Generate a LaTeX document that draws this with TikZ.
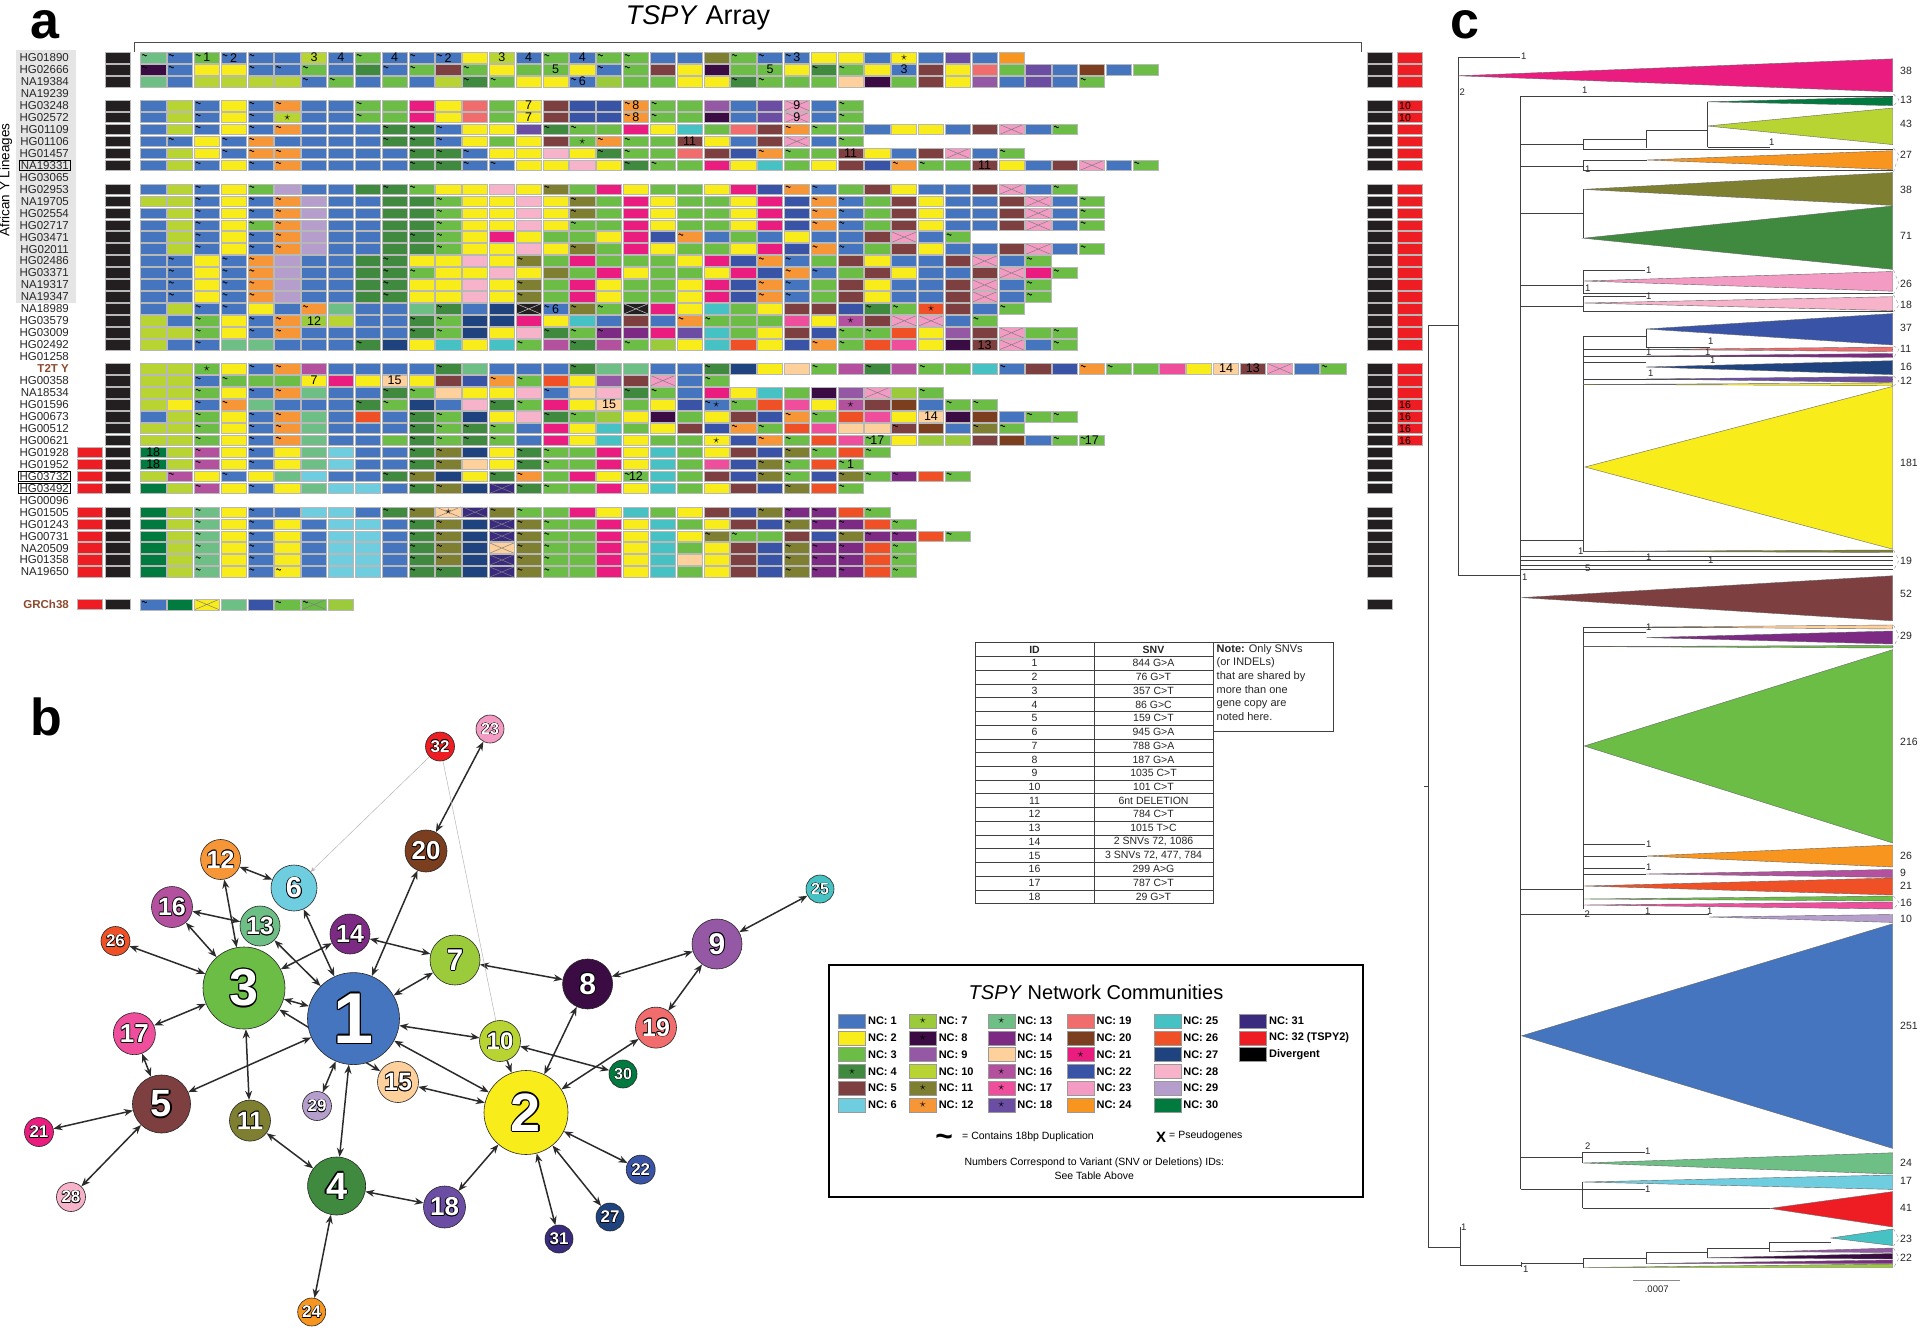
\documentclass[tikz,border=0pt]{standalone}
\usepackage{fontspec}
\setmainfont{Liberation Sans}
\usetikzlibrary{arrows.meta,positioning,calc}
\definecolor{TspyNC1}{HTML}{4575BE}
\definecolor{TspyNC2}{HTML}{F8EC1A}
\definecolor{TspyNC3}{HTML}{6BBD45}
\definecolor{TspyNC4}{HTML}{3F8A3E}
\definecolor{TspyNC5}{HTML}{7E3F40}
\definecolor{TspyNC6}{HTML}{6ECEDF}
\definecolor{TspyNC7}{HTML}{9BCB3B}
\definecolor{TspyNC8}{HTML}{3B0B43}
\definecolor{TspyNC9}{HTML}{9558A4}
\definecolor{TspyNC10}{HTML}{B7D433}
\definecolor{TspyNC11}{HTML}{7F7F32}
\definecolor{TspyNC12}{HTML}{F79637}
\definecolor{TspyNC13}{HTML}{6DBF85}
\definecolor{TspyNC14}{HTML}{7C2A84}
\definecolor{TspyNC15}{HTML}{FED09C}
\definecolor{TspyNC16}{HTML}{B4519F}
\definecolor{TspyNC17}{HTML}{EE4E9C}
\definecolor{TspyNC18}{HTML}{6B4EA3}
\definecolor{TspyNC19}{HTML}{F06C6D}
\definecolor{TspyNC20}{HTML}{7B3F1F}
\definecolor{TspyNC21}{HTML}{EB1C7F}
\definecolor{TspyNC22}{HTML}{3954A6}
\definecolor{TspyNC23}{HTML}{F39BC3}
\definecolor{TspyNC24}{HTML}{F7951E}
\definecolor{TspyNC25}{HTML}{46C2C4}
\definecolor{TspyNC26}{HTML}{F05025}
\definecolor{TspyNC27}{HTML}{1F437F}
\definecolor{TspyNC28}{HTML}{F6B3C9}
\definecolor{TspyNC29}{HTML}{B59DCC}
\definecolor{TspyNC30}{HTML}{017A40}
\definecolor{TspyNC31}{HTML}{3A2B7E}
\definecolor{TspyNC32}{HTML}{EE1D24}
\definecolor{TspyNCD}{HTML}{231F20}
\definecolor{TspyBrown}{HTML}{8C4A2F}
\definecolor{TspyEdge}{HTML}{2B2B2B}
\pgfdeclarelayer{bg}
\pgfsetlayers{bg,main}
\newcommand\tstar{\raisebox{-1pt}{\fontsize{13}{13}\selectfont$\star$}}
\newcommand\olbl[2]{\leavevmode\rlap{\color{black}\kern#2pt#1}\rlap{\color{black}\kern-#2pt#1}\rlap{\color{black}\raisebox{#2pt}{#1}}\rlap{\color{black}\raisebox{-#2pt}{#1}}\rlap{\color{black}\kern.7\dimexpr#2pt\relax\raisebox{.7\dimexpr#2pt\relax}{#1}}\rlap{\color{black}\kern-.7\dimexpr#2pt\relax\raisebox{.7\dimexpr#2pt\relax}{#1}}\rlap{\color{black}\kern.7\dimexpr#2pt\relax\raisebox{-.7\dimexpr#2pt\relax}{#1}}\rlap{\color{black}\kern-.7\dimexpr#2pt\relax\raisebox{-.7\dimexpr#2pt\relax}{#1}}#1}
\newcommand\arow[3]{\foreach \c/\m/\l [count=\j from 0] in {#3}{\node[cellbox,fill=TspyNC\c,cmsel=\m] (#1-\j) at ({153.2+26.82*\j},{57.7+11.96*#2}) {\l};}}
\newcommand\clade[5]{\filldraw[clade,fill=TspyNC#1] (#2,#3) -- (1892.7,#4) -- (1892.7,#5) -- cycle;}
\newcommand\brk[3]{\draw[dashed,black!45,line width=.4pt] (1893.5,#1) -- (1899,#2) -- (1893.5,#3);}
\tikzset{
  cellbox/.style={draw=black!28,line width=.6pt,minimum width=25.2pt,minimum height=10.6pt,inner sep=0pt,font=\fontsize{12.5}{10}\selectfont},
  cmsel/.code={\edef\tmpsel{\noexpand\pgfkeysalso{cmk#1}}\tmpsel},
  cmk/.style={},
  tildemark/.code={\draw[black,line width=.8pt] ([shift={(1.6pt,-2.8pt)}]path picture bounding box.north west) sin +(1.15pt,.75pt) cos +(1.15pt,-.75pt) sin +(1.15pt,-.75pt) cos +(1.15pt,.75pt);},
  crossmark/.code={\draw[#1,line width=.5pt] (path picture bounding box.south west) -- (path picture bounding box.north east) (path picture bounding box.north west) -- (path picture bounding box.south east);},
  cmkt/.style={path picture={\pgfkeys{/tikz/tildemark}}},
  cmkx/.style={path picture={\pgfkeys{/tikz/crossmark=black!50}}},
  cmkw/.style={path picture={\pgfkeys{/tikz/crossmark=white!80!black}}},
  cmktx/.style={path picture={\pgfkeys{/tikz/crossmark=black!50}\pgfkeys{/tikz/tildemark}}},
  blkbox/.style={fill=TspyNCD,draw=black!28,line width=.6pt,minimum width=25pt,minimum height=10.6pt,inner sep=0pt},
  redbox/.style={blkbox,fill=TspyNC32},
  nmlbl/.style={anchor=east,inner sep=1pt,font=\fontsize{11.5}{11}\selectfont,text=black!85},
  ncnode/.style={circle,draw=black!85,line width=.6pt,inner sep=0pt,text=white},
  nedge/.style={{Stealth[length=9pt,width=7pt]}-{Stealth[length=9pt,width=7pt]},line width=1.5pt,draw=TspyEdge},
  thinedge/.style={line width=.45pt,draw=black!30},
  swatch/.style={draw=black!40,line width=.5pt,minimum width=27pt,minimum height=14pt,inner sep=0pt},
  lgtxt/.style={inner sep=0pt,font=\fontsize{11}{11}\selectfont\bfseries},
  lgnote/.style={inner sep=0pt,font=\fontsize{10.5}{14.3}\selectfont},
  tbtxt/.style={inner sep=0pt,font=\fontsize{10.5}{10.5}\selectfont,text=black!85},
  tbline/.style={line width=.6pt,draw=black!75},
  tline/.style={draw=black!75,line width=.8pt},
  clade/.style={draw=black!60,line width=.4pt},
  tlbl/.style={anchor=west,inner sep=0pt,font=\fontsize{10.5}{10.5}\selectfont,text=black!85},
  blbl/.style={anchor=west,inner sep=0pt,font=\fontsize{9.5}{9.5}\selectfont,text=black!85},
  panel/.style={font=\fontsize{52}{52}\selectfont\bfseries,inner sep=0pt}
}
\begin{document}
\begin{tikzpicture}[x=1pt,y=-1pt]
\begin{pgfonlayer}{bg}
\fill[white] (0,0) rectangle (1920,1332);
\end{pgfonlayer}
\useasboundingbox (0,0) rectangle (1920,1332);
\node[panel] (pa) at (44.5,25) {a};
\node[panel] (pb) at (46.6,717) {b};
\node[panel] (pc) at (1465,25) {c};
\node[font=\fontsize{27}{27}\selectfont] (ttl) at (698,18) {\textit{TSPY} Array};
\draw[black!70,line width=.8pt] (134.7,52) -- (134.7,42.5) -- (1361.7,42.5) -- (1361.7,52);
\fill[black!10] (15.6,50) rectangle (75.9,303.3);
\node[rotate=90,font=\fontsize{13.5}{13.5}\selectfont,inner sep=0pt] (afr) at (6,180) {African Y Lineages};
\foreach \r/\nm in {0/HG01890,1/HG02666,2/NA19384,3/NA19239,4/HG03248,5/HG02572,6/HG01109,7/HG01106,8/HG01457,9/NA19331,10/HG03065,11/HG02953,12/NA19705,13/HG02554,14/HG02717,15/HG03471,16/HG02011,17/HG02486,18/HG03371,19/NA19317,20/NA19347,21/NA18989,22/HG03579,23/HG03009,24/HG02492,25/HG01258,27/HG00358,28/NA18534,29/HG01596,30/HG00673,31/HG00512,32/HG00621,33/HG01928,34/HG01952,35/HG03732,36/HG03492,37/HG00096,38/HG01505,39/HG01243,40/HG00731,41/NA20509,42/HG01358,43/NA19650}
  \node[nmlbl] (nm\r) at (70,{57.7+11.96*\r}) {\nm};
\node[nmlbl,text=TspyBrown,font=\fontsize{11.5}{11}\selectfont\bfseries] (nm26) at (70,{57.7+11.96*26}) {T2T Y};
\node[nmlbl,text=TspyBrown,font=\fontsize{11.5}{11}\selectfont\bfseries] (nmgrc) at (70,604.3) {GRCh38};
\foreach \r in {9,35,36}
  \draw[line width=.8pt] (nm\r.south west) rectangle (nm\r.north east);
\foreach \r in {0,1,2,4,5,6,7,8,9,11,12,13,14,15,16,17,18,19,20,21,22,23,24,26,27,28,29,30,31,32,33,34,35,36,38,39,40,41,42,43} {
  \node[blkbox] (lk\r) at (117.7,{57.7+11.96*\r}) {};
  \node[blkbox] (rk\r) at (1380,{57.7+11.96*\r}) {};
}
\foreach \r in {33,34,35,36,38,39,40,41,42,43}
  \node[redbox] (lr\r) at (90,{57.7+11.96*\r}) {};
\foreach \r in {0,1,2,4,5,6,7,8,9,11,12,13,14,15,16,17,18,19,20,21,22,23,24,26,27,28,29,30,31,32}
  \node[redbox] (rr\r) at (1409.3,{57.7+11.96*\r}) {};
\foreach \r/\t in {4/10,5/10,29/16,30/16,31/16,32/16}
  \node[anchor=west,inner sep=0pt,font=\fontsize{10.5}{10}\selectfont] (rt\r) at (1399,{57.7+11.96*\r}) {\t};
\node[redbox] (lrgrc) at (90,604.3) {};
\node[blkbox] (lkgrc) at (117.7,604.3) {};
\node[blkbox] (rkgrc) at (1380,604.3) {};
\arow{r0}{0}{13/t/,1/t/,3/t/1,1/t/2,1/t/,1//,10//3,1//4,3/t/,1//4,1/t/,1/t/2,2//,10//3,1//4,3/t/,1//4,3/t/,3/t/,1//,1//,11//,3/t/,1/t/,1/t/3,2//,2//,1//,2//\tstar,1//,18//,1//,24//}
\arow{r1}{1}{8/t/,1/t/,2//,2//,1/t/,1/t/,3/t/,1//,4//,1/t/,3/t/,5//,3/t/,2//,3//,3//5,2//,1/t/,3/t/,5//,2//,8//,3//,3//5,2//,4/t/,3/t/,2//,1//3,5//,2//,19//,3//,18//,1//,20//,1//,3//}
\arow{r2}{2}{13//,1//,10//,10//,10//,10//,1/t/,3/t/,1//,3//,1//,10//,4/t/,3/t/,2//,2//,1/t/6,7//,3//,3//,2//,2//,4/t/,3/t/,3//,3//,15//,8//,3//,5//,2//,9//,1//,18//,1//,3/t/}
\arow{r4}{4}{1//,10//,1/t/,2//,1/t/,12/t/,1//,1//,3/t/,3//,21//,2//,19//,3//,2//7,5//,22//,22//,12/t/8,3/t/,3//,9//,1//,18//,23/x/9,1//,3/t/}
\arow{r5}{5}{1//,10//,1/t/,2//,1/t/,10//\tstar,1//,1//,3/t/,3//,21//,2//,19//,3//,2//7,5//,22//,22//,12/t/8,3/t/,3//,8//,1//,18//,23/x/9,1//,3/t/}
\arow{r6}{6}{1//,10//,1/t/,2//,1/t/,12/t/,1//,1//,1//,4/t/,4/t/,1/t/,2//,2//,18//,4/t/,3/t/,3//,21//,2//,25//,3//,19//,5//,12/t/,3/t/,3//,1//,2//,2//,1//,5//,23/x/,1//,3/t/}
\arow{r7}{7}{1//,1/t/,2//,1/t/,12/t/,1//,1//,1//,1//,4/t/,4/t/,1/t/,2//,3//,2//,5//,3//\tstar,12/t/,3/t/,3//,5//11,2//,1//,5//,23/x/,1//,3/t/}
\arow{r8}{8}{1//,10//,2//,1/t/,12/t/,12/t/,1//,1//,1//,1//,4/t/,4/t/,1/t/,2//,2//,28//,2//,4/t/,3/t/,3//,19//,5//,22//,12/t/,3/t/,3//,5//11,2//,1//,5//,23/x/,1//,3/t/}
\arow{r9}{9}{1//,10//,1/t/,2//,1/t/,12/t/,1//,1//,1//,1//,4/t/,4/t/,1/t/,1/t/,2//,2//,28//,2//,4/t/,3/t/,3//,21//,2//,25//,3//,2//,5//,22//,12/t/,3/t/,3//,5//11,2//,1//,5//,23/x/,1//,3/t/}
\arow{r11}{11}{1//,10//,1/t/,2//,3/t/,29//,1//,1//,4//,4/t/,3/t/,2//,2//,28//,2//,11/t/,3//,21//,2//,3//,3//,2//,21//,22//,12/t/,1/t/,3//,5//,2//,1//,1//,5//,23/x/,1//,3/t/}
\arow{r12}{12}{10//,10//,1/t/,2//,1/t/,12/t/,29//,1//,1//,4//,4//,3/t/,2//,2//,28//,2//,11/t/,3//,21//,2//,3//,3//,2//,21//,22//,12/t/,1/t/,3//,5//,2//,1//,1//,5//,23/x/,1//,3/t/}
\arow{r13}{13}{1//,10//,1/t/,2//,1/t/,12/t/,29//,1//,1//,4//,4//,3/t/,2//,2//,28//,2//,11/t/,3//,21//,2//,3//,3//,2//,21//,22//,12/t/,1/t/,3//,5//,2//,1//,1//,5//,23/x/,1//,3/t/}
\arow{r14}{14}{1//,10//,1/t/,2//,3/t/,12/t/,29//,1//,1//,4//,4//,3/t/,2//,2//,28//,2//,3/t/,3//,21//,2//,3//,3//,2//,21//,22//,12/t/,1/t/,3//,5//,2//,1//,1//,5//,23/x/,1//,3/t/}
\arow{r15}{15}{1//,10//,1/t/,2//,1/t/,12/t/,29//,1//,1//,4//,4/t/,3/t/,2//,21//,2//,3//,3//,2//,21//,22//,12/t/,1//,3//,1//,2//,1//,1//,5//,23/x/,1//,3/t/}
\arow{r16}{16}{1//,10//,1/t/,2//,1/t/,12/t/,29//,1//,1//,4//,4//,3/t/,2//,2//,28//,2//,11/t/,3//,21//,2//,3//,3//,2//,21//,22//,12/t/,1/t/,3//,5//,2//,1//,1//,5//,23/x/,1//,3/t/}
\arow{r17}{17}{1//,1/t/,2//,1/t/,12/t/,29//,1//,1//,4//,4/t/,2//,2//,28//,2//,11/t/,3//,21//,3//,3//,3//,2//,21//,22//,12/t/,1/t/,3//,5//,2//,1//,1//,5//,23/x/,1//,3/t/}
\arow{r18}{18}{1//,1/t/,2//,1/t/,12/t/,29//,1//,1//,4//,4/t/,3/t/,2//,2//,28//,2//,11//,3//,21//,2//,3//,3//,2//,21//,22//,12/t/,1/t/,3//,5//,2//,1//,1//,5//,23/x/,21//,3/t/}
\arow{r19}{19}{1//,1/t/,2//,1/t/,12/t/,29//,1//,1//,4//,4/t/,2//,2//,28//,2//,11/t/,3//,21//,2//,3//,3//,2//,21//,22//,12/t/,1/t/,3//,5//,2//,1//,1//,5//,23/x/,1//,3/t/}
\arow{r20}{20}{1//,1/t/,2//,1/t/,12/t/,29//,1//,1//,4//,4/t/,2//,2//,28//,2//,11/t/,3//,21//,2//,3//,3//,2//,21//,22//,12/t/,1/t/,3//,5//,2//,1//,1//,5//,23/x/,1//,3/t/}
\arow{r21}{21}{1//,10//,1/t/,1/t/,2//,1//,12/t/,13//,1//,1//,13//,4/t/,1//,27//,D/w/,1/t/6,11/t/,3/t/,D/w/,21//,2//,25//,3//,2//,5//,5//,22//,4/t/,3/t/,26//\tstar,5//,1//,3/t/}
\arow{r22}{22}{10//,1//,3/t/,2//,1/t/,12/t/,7//12,10//,1//,1//,4/t/,3/t/,27//,27//,21//,2//,25//,1//,5//,1//,12/t/,3/t/,3//,3//,17//,2//,16//\tstar,5//,23/x/,23/x/,1//,3/t/}
\arow{r23}{23}{10//,10//,3/t/,2//,1/t/,12/t/,1//,1//,1//,1//,4/t/,3/t/,27//,2//,28//,4/t/,3/t/,14/t/,14//,21//,18//,25//,3//,2//,5//,22//,3/t/,3/t/,26//,2//,9//,5//,23/x/,3//,3/t/}
\arow{r24}{24}{10//,1//,1/t/,13//,13//,1//,1//,1//,4/t/,27//,2//,25//,2//,25//,3/t/,16//,4/t/,16//,3/t/,7//,2//,25//,26//,2//,22//,12/t/,3/t/,26//,17//,2//,8//,5//13,23/x/,1//,3/t/}
\arow{r26}{26}{10//,10//,3//\tstar,2//,1/t/,12/t/,16//,1//,1//,1//,1//,4/t/,13//,1//,1//,1//,4/t/,13//,13//,1//,1//,4/t/,27//,2//,15//,3/t/,16//,4/t/,16//,3/t/,3//,25//,1/t/,5//,22//,12/t/,3/t/,3//,17//,2//,15//14,5//13,23/x/,1//,3/t/}
\arow{r27}{27}{10//,10//,1/t/,3/t/,3//,3//,2//7,21//,2//,15//15,2//,5//,22//,12/t/,3/t/,26//,2//,9//,5//,23/x/,1//,3/t/}
\arow{r28}{28}{10//,10//,3/t/,2//,1/t/,12/t/,13//,1//,1//,4/t/,3/t/,15//,2//,2//,28//,1/t/,15//,28//,4/t/,3/t/,1//,21//,2//,25//,3//,8//,9//,23/x/,7//,3/t/}
\arow{r29}{29}{10//,2//,1/t/,12/t/,13//,1//,1//,1//,4/t/,3/t/,27//,1//,28//,4/t/,3/t/,21//,2//,15//15,3//,2//,22//,1/t/\tstar,3/t/,26//,17//,2//,16//\tstar,5//,20//,1//,3/t/,3/t/}
\arow{r30}{30}{1//,10//,3/t/,2//,1/t/,12/t/,13//,1//,26//,1//,4/t/,3/t/,27//,2//,28//,4/t/,3/t/,7//,2//,8//,3//,2//,5//,22//,12/t/,3/t/,26//,17//,2//,15//14,8//,20//,1//,3/t/,3/t/}
\arow{r31}{31}{10//,10//,3/t/,2//,1/t/,12/t/,13//,1//,1//,1//,4/t/,3/t/,4/t/,3/t/,1//,21//,2//,25//,3//,2//,5//,22//,12/t/,3/t/,26//,17//,15//,15//,5/t/,20//,1//,11/t/,3/t/}
\arow{r32}{32}{10//,10//,3/t/,2//,1/t/,12/t/,13//,1//,1//,3//,4/t/,3/t/,4/t/,3/t/,1//,21//,2//,25//,2//,3//,3//,2//\tstar,22//,12/t/,3/t/,26//,17//,3/t/17,2//,7//,7//,5//,20//,1//,3/t/,3/t/17}
\arow{r33}{33}{30//18,10//,16/t/,2//,1/t/,2//,13//,6//,1//,1//,4/t/,11/t/,27//,2//,4/t/,3/t/,3//,21//,2//,25//,3//,2//,5//,22//,11/t/,3/t/,26//,3/t/}
\arow{r34}{34}{30//18,10//,16/t/,2//,1/t/,2//,13//,6//,1//,1//,4/t/,11/t/,15//,2//,4/t/,3/t/,3//,21//,2//,25//,3//,17//,22//,11/t/,3/t/,26//,3/t/1}
\arow{r35}{35}{10//,16/t/,2//,1/t/,2//,13//,6//,1//,1//,4/t/,11/t/,27//,2//,4/t/,12/t/,3//,21//,2//,3/t/12,25//,3//,5//,22//,11/t/,3/t/,22//,11/t/,3/t/,14/t/,26//,3/t/}
\arow{r36}{36}{30//,10//,16/t/,2//,1/t/,2//,13//,6//,6//,1//,4/t/,11/t/,27//,31/x/,4/t/,3/t/,3//,21//,2//,25//,3//,2//,5//,22//,11/t/,26//,3/t/}
\arow{r38}{38}{30//,10//,13/t/,2//,1/t/,1//,6//,6//,1//,4/t/,11/t/,15/x/\tstar,31/x/,11/t/,3/t/,3//,21//,2//,25//,3//,2//,5//,22//,11/t/,14/t/,14/t/,26//,3/t/}
\arow{r39}{39}{30//,10//,13/t/,2//,1/t/,2//,1//,6//,6//,1//,4/t/,11/t/,27//,31/x/,11/t/,3/t/,3//,21//,2//,25//,3//,2//,5//,22//,11/t/,14/t/,14/t/,26//,3/t/}
\arow{r40}{40}{30//,10//,13/t/,2//,1/t/,2//,1//,6//,6//,1//,4/t/,11/t/,27//,31/x/,11/t/,3/t/,3//,21//,2//,25//,2//,11/t/,3/t/,3//,5//,22//,11/t/,14/t/,14/t/,26//,3/t/}
\arow{r41}{41}{30//,10//,13/t/,2//,1/t/,2//,1//,6//,6//,1//,4/t/,11/t/,27//,15/x/,11/t/,3/t/,3//,21//,2//,25//,3//,2//,5//,22//,11/t/,14/t/,14/t/,26//,3/t/}
\arow{r42}{42}{30//,10//,13/t/,2//,1/t/,2//,1//,6//,6//,1//,4/t/,11/t/,27//,31/x/,11/t/,3/t/,3//,21//,2//,25//,15//,2//,5//,22//,11/t/,14/t/,14/t/,26//,3/t/}
\arow{r43}{43}{30//,10//,13/t/,2//,1/t/,2/t/,1//,6//,6//,1//,4/t/,4/t/,27//,31/x/,11/t/,3/t/,3//,21//,2//,25//,3//,2//,5//,22//,11/t/,14/t/,14/t/,26//,3/t/}
\arow{grc}{45.72}{1/t/,30//,2/x/,13//,22//,3/t/,3/tx/,7//}
\draw[tbline] (975,642.7) rectangle (1213,903.6);
\draw[tbline] (1094,642.7) -- (1094,903.6);
\foreach \k in {1,...,18}
  \draw[tbline] (975,{642.7+13.73*\k}) -- (1213,{642.7+13.73*\k});
\node[tbtxt,font=\fontsize{10.5}{10.5}\selectfont\bfseries] (tidh) at (1034.5,649.6) {ID};
\node[tbtxt,font=\fontsize{10.5}{10.5}\selectfont\bfseries] (tsvh) at (1153.5,649.6) {SNV};
\foreach \i/\s [count=\k] in {1/844 G>A,2/76 G>T,3/357 C>T,4/86 G>C,5/159 C>T,6/945 G>A,7/788 G>A,8/187 G>A,9/1035 C>T,10/101 C>T,11/6nt DELETION,12/784 C>T,13/1015 T>C,14/2 SNVs 72{,} 1086,15/3 SNVs 72{,} 477{,} 784,16/299 A>G,17/787 C>T,18/29 G>T} {
  \node[tbtxt] (tid\k) at (1034.5,{642.7+13.73*(\k+.5)}) {\i};
  \node[tbtxt] (tsv\k) at (1153.5,{642.7+13.73*(\k+.5)}) {\s};
}
\draw[tbline] (1213,642.7) rectangle (1333,731);
\node[anchor=north west,align=left,inner sep=0pt,font=\fontsize{11}{13.7}\selectfont,text=black!85] (note) at (1216.5,644) {\textbf{Note:} Only SNVs\\(or INDELs)\\that are shared by\\more than one\\gene copy are\\noted here.};
\foreach \n/\x/\y/\r/\f in {1/353.5/1018.6/46/72,2/526/1112.5/42/54,3/244/988/41/52,4/336.6/1186/29/38,5/161.5/1104/29/38,6/294/888/23/29,7/455/960/25/30,8/587.6/984/25/30,9/717/944/25/30,10/500/1041/20.5/24,11/250/1120.6/20.5/25,12/220.6/859.5/20/25,13/260/926/20/25,14/350/934/20/25,15/398/1082/20.5/25,16/172/907/20.5/25,17/134.4/1033.7/21/26,18/444.5/1207/21/26,19/656/1027.6/20.5/25,20/426/851/21/26,21/39/1132/14.5/17,22/640.7/1169.6/14.5/17,23/490/729/14/16,24/311.7/1312/14/17,25/820/889/14/16,26/115.5/941/14.5/17,27/610/1217/14/17,28/71/1197/14.5/17,29/317/1106/14.5/17,30/623/1074/14/16,31/559/1239/14/17,32/440/746.5/14.5/17} {
  \pgfmathsetmacro\ow{min(0.03*\f,1.4)}
  \node[ncnode,fill=TspyNC\n,minimum size=2*\r,font=\fontsize{\f}{\f}\selectfont\bfseries] (n\n) at (\x,\y) {\olbl{\n}{\ow}};
}
\begin{pgfonlayer}{bg}
\foreach \a/\b in {23/20,12/6,12/3,16/13,13/1,16/3,26/3,6/1,14/3,14/7,20/1,7/1,7/8,8/9,9/25,9/19,19/2,8/2,1/10,10/30,1/2,15/2,1/3,3/15,17/3,17/5,5/1,3/11,21/5,28/5,11/4,1/4,29/1,4/18,4/24,18/2,2/22,2/27,2/31}
  \draw[nedge] (n\a) -- (n\b);
\draw[nedge,{Stealth[length=9pt,width=7pt]}-] (n2) -- (n10);
\draw[thinedge,-{Stealth[length=5pt,width=4pt]}] (n32) -- (n6);
\draw[thinedge] (n32) -- (n10);
\end{pgfonlayer}
\draw[line width=2pt] (829,965) rectangle (1363,1197);
\node[font=\fontsize{20}{20}\selectfont] (lgttl) at (1096,992) {\textit{TSPY} Network Communities};
\foreach \n [count=\k from 0] in {1,...,30} {
  \pgfmathtruncatemacro\cl{\k/6}
  \pgfmathtruncatemacro\rw{mod(\k,6)}
  \pgfmathsetmacro\lx{{838.6,909.3,987.9,1067.1,1153.9,1239.6}[\cl]}
  \node[swatch,fill=TspyNC\n] (sw\n) at ({\lx+13.5},{1021+16.8*\rw}) {};
  \node[lgtxt,right=2pt of sw\n] (sl\n) {NC: \n};
}
\node[swatch,fill=TspyNC31] (sw31) at (1253.1,1021) {};
\node[lgtxt,right=2pt of sw31] (sl31) {NC: 31};
\node[swatch,fill=TspyNC32] (sw32) at (1253.1,1037.8) {};
\node[lgtxt,right=2pt of sw32] (sl32) {NC: 32 (TSPY2)};
\node[swatch,fill=black] (swd) at (1253.1,1054.6) {};
\node[lgtxt,right=2pt of swd] (sld) {Divergent};
\foreach \n in {4,7,8,11,12,13,16,17,18,21}
  \node[inner sep=0pt] (sst\n) at (sw\n) {\tstar};
\node[inner sep=0pt,font=\fontsize{30}{30}\selectfont\bfseries] (lgtil) at (944,1140) {\textasciitilde};
\node[lgnote,anchor=west] (lgdup) at (962,1136.5) {= Contains 18bp Duplication};
\node[inner sep=0pt,font=\fontsize{15}{15}\selectfont\bfseries] (lgx) at (1161,1137.5) {X};
\node[lgnote,anchor=west] (lgps) at (1169,1136) {= Pseudogenes};
\node[lgnote,align=center] (lgnum) at (1094.3,1169) {Numbers Correspond to Variant (SNV or Deletions) IDs:\\See Table Above};
\draw[tline] (1424,786) -- (1428,786);
\foreach \xa/\xb/\y in {1428/1458.3/325,1458.3/1520/57.7,1458.3/1520.5/575.8,1520.5/1892.7/96,1520.5/1583.3/144,1583.3/1646/139,1646/1707.5/130,1707.5/1770/147.3,1583.3/1892.7/149.4,1520.5/1583.3/166,1583.3/1646.7/160,1583.3/1892.7/170.5,1520.5/1583.3/213.4,1520.5/1583.3/285,1583.3/1645/270,1583.3/1892.7/293.3,1520.5/1583.3/306,1583.3/1646/296.5,1583.3/1892.7/311.4,1520.5/1583.3/540,1583.3/1646/336.7,1646/1710/347,1583.3/1892.7/349.5,1583.3/1892.7/356,1583.3/1646/362,1583.3/1892.7/379,1583.3/1892.7/384.5,1583.3/1892.7/551.3,1520.5/1892.7/556,1520.5/1892.7/560.5,1520.5/1892.7/565,1520.5/1892.7/569,1520.5/1583.3/889,1583.3/1892.7/627,1583.3/1646/632,1583.3/1892.7/646.6,1583.3/1645/843.9,1583.3/1646.7/856,1583.3/1645/868.6,1583.3/1646/874,1520.5/1709/914.5,1520.5/1582.7/1157,1582.7/1645/1152,1520.5/1582.7/1189.4,1582.7/1645/1189.4,1582.7/1770/1208.4,1428/1460/1247,1460/1521.7/1265.8,1521.7/1583.3/1263.5,1583.3/1646/1258.7,1646/1707/1252.5,1707/1769/1248,1769/1831/1242.4}
  \draw[tline] (\xa,\y) -- (\xb,\y);
\foreach \x/\ya/\yb in {1428/325/1247,1458.3/57.7/575.8,1520.5/96/1189.4,1583.3/139/149.4,1646/130/147.7,1707.5/101.8/147.3,1583.3/160/170.5,1583.3/189.4/238.2,1583.3/270/293.3,1583.3/296.5/311.4,1583.3/336.7/551.3,1646/329/347,1583.3/627/909,1582.7/1152/1163,1582.7/1182/1208.4,1460/1227/1265.8,1521.7/1262/1266.7,1583.3/1258.7/1267.5,1646/1252.5/1263.5,1707/1248/1257.8,1769/1242.4/1251.7}
  \draw[tline] (\x,\ya) -- (\x,\yb);
\clade{21}{1458.3}{75.8}{58.9}{91.8}
\clade{30}{1707.5}{101.8}{97}{105.6}
\clade{10}{1707.5}{126}{108}{144.6}
\clade{24}{1646.7}{160}{150.7}{169.5}
\clade{11}{1583.3}{189.4}{172.6}{205.4}
\clade{4}{1583.3}{238.2}{206}{269.4}
\clade{23}{1583.3}{281}{271.5}{291.2}
\clade{28}{1583.3}{303}{296.7}{310.6}
\clade{22}{1646}{329}{313.6}{345}
\clade{19}{1646}{349.5}{347}{351.5}
\clade{14}{1646}{356}{353.5}{357.5}
\clade{27}{1646}{367}{360.7}{374.6}
\clade{18}{1646}{379}{376.5}{382.5}
\clade{2}{1583.3}{384.5}{383}{385.5}
\clade{2}{1585}{467}{386.4}{549.2}
\clade{11}{1583.3}{551.3}{550}{552.5}
\clade{5}{1521.7}{597.6}{575.8}{620.8}
\clade{15}{1646}{627}{625}{629}
\clade{14}{1646.7}{637.6}{631}{644}
\clade{3}{1583.3}{646.6}{645.5}{648}
\clade{3}{1584.3}{746}{649.7}{843}
\clade{24}{1646.7}{856}{845}{867}
\clade{16}{1646}{874}{869.5}{877.4}
\clade{26}{1584}{886}{878}{895}
\clade{3}{1584}{899}{896}{901}
\clade{17}{1584}{905}{902}{909}
\clade{29}{1709}{917}{914.5}{922.4}
\clade{1}{1521.7}{1035.8}{923.8}{1148.4}
\clade{13}{1582.7}{1163}{1152.8}{1174}
\clade{6}{1582.7}{1182}{1175}{1189.4}
\clade{32}{1770}{1208.4}{1191.6}{1227}
\clade{25}{1831}{1238}{1229}{1245.5}
\clade{9}{1769}{1251.7}{1248}{1252.5}
\clade{8}{1707}{1257.8}{1253.5}{1259}
\clade{14}{1646}{1263.5}{1260}{1263.5}
\clade{7}{1583.3}{1267.5}{1264}{1267.5}
\foreach \y/\t [count=\k] in {70.7/38,99.7/13,124/43,155/27,189.4/38,235.7/71,284/26,305/18,328/37,349/11,367/16,381/12,463/181,560.6/19,594.3/52,635.5/29,741.5/216,856/26,872.6/9,886/21,902.6/16,919/10,1026/251,1163/24,1180.6/17,1208/41,1238.9/23,1257.8/22}
  \node[tlbl] (tl\k) at (1900,\y) {\t};
\brk{94}{99.7}{106}
\brk{148}{155}{172}
\brk{270}{284}{294}
\brk{295}{305}{312}
\brk{346}{349}{358}
\brk{376}{381}{386}
\brk{550}{560.6}{570}
\brk{625}{635.5}{647}
\brk{896}{902.6}{909}
\brk{1229}{1238.9}{1246}
\brk{1248}{1257.8}{1268}
\foreach \x/\y/\t [count=\k] in {1521/56/1,1459.5/92/2,1582/90.5/1,1769/142/1,1585/169.6/1,1646/270/1,1585/288/1,1646/296.7/1,1708/341/1,1646/352.7/1,1705/352.7/1,1710/360.7/1,1648/373.7/1,1578/551.3/1,1646/557.7/1,1708/559.8/1,1585/568/5,1522/577.5/1,1646/627/1,1646/843.9/1,1646/867.7/1,1584.5/914.5/2,1645/911/1,1707/911/1,1585/1146.6/2,1645/1151/1,1645/1189.4/1,1461/1227/1,1523/1268.9/1}
  \node[blbl] (tb\k) at (\x,\y) {\t};
\draw[black!45,line width=.8pt] (1633.3,1280) -- (1680,1280);
\node[blbl,anchor=center] (scl) at (1656.7,1289.5) {.0007};
\end{tikzpicture}
\end{document}
